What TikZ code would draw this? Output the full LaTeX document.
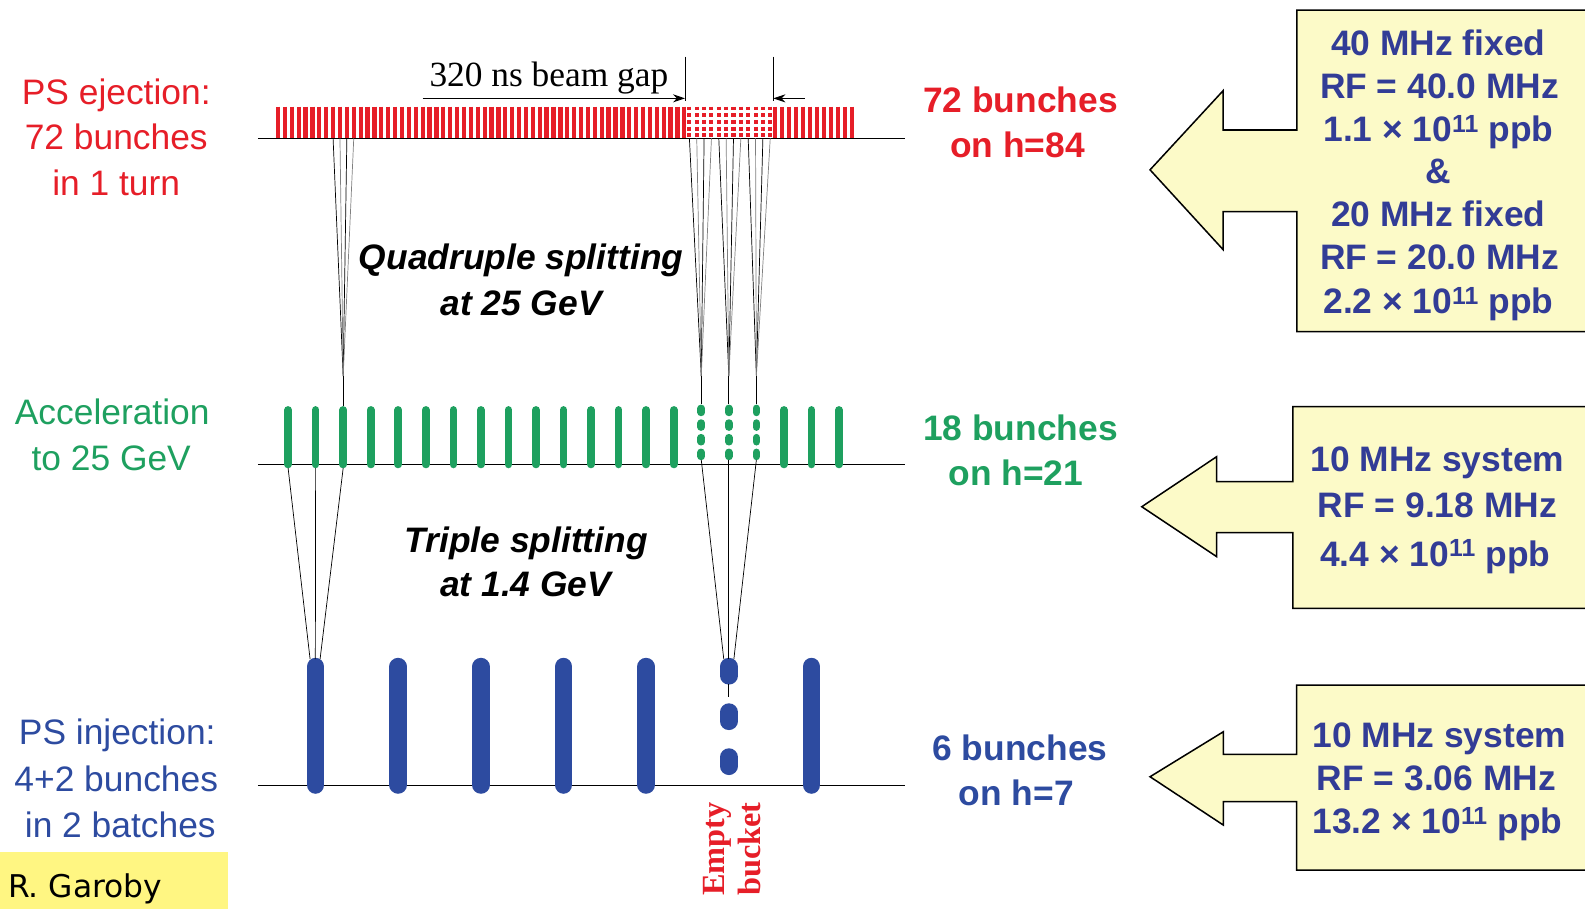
\documentclass[tikz,border=0pt]{standalone}
\usepackage{fontspec}
\setmainfont{Liberation Sans}
\newfontfamily\timesf{Liberation Serif}
\newfontfamily\handf{DejaVu Sans}
\usetikzlibrary{arrows.meta}
\definecolor{cred}{RGB}{230,30,40}
\definecolor{cgreen}{RGB}{30,160,95}
\definecolor{cblue}{RGB}{45,75,160}
\definecolor{ctext}{RGB}{50,60,150}
\definecolor{cpale}{RGB}{252,250,200}
\definecolor{cyel}{RGB}{255,246,130}
\begin{document}
\begin{tikzpicture}[x=1pt,y=-1pt,
  lbl/.style={anchor=base,inner sep=0pt,font=\fontsize{35}{42}\selectfont},
  blbl/.style={lbl,font=\bfseries\fontsize{35}{42}\selectfont},
  ilbl/.style={lbl,font=\bfseries\itshape\fontsize{35}{42}\selectfont},
  boxtxt/.style={blbl,text=ctext},
  redbar/.style={cred,line width=4.2pt},
  reddot/.style={cred,line width=4pt,dash pattern=on 3.8pt off 2.8pt},
  greenbar/.style={cgreen,line width=7.5pt,line cap=round},
  bluebar/.style={cblue,line width=17.5pt,line cap=round},
  bluedot/.style={cblue,line width=17.5pt,line cap=round},
  splitline/.style={black,line width=0.7pt},
  splitgray/.style={black!50,line width=0.7pt},
  axisline/.style={black,line width=1pt},
  bigarrow/.style={fill=cpale,draw=black,line width=1.5pt,line join=miter},
  gaparrow/.style={black,line width=0.9pt,-{Stealth[length=12pt,width=8pt]}}
]
\useasboundingbox (0,0) rectangle (1568,899);

% baselines
\draw[axisline] (255,136.8) coordinate (rl0) -- (895,136.8) coordinate (rl1);
\draw[axisline] (255,460) coordinate (gl0) -- (895,460) coordinate (gl1);
\draw[axisline] (255,776.6) coordinate (bl0) -- (895,776.6) coordinate (bl1);

% red bunches
\foreach \i in {0,...,59} {\draw[redbar] ({275+6.814*\i},105.5) -- ({275+6.814*\i},136.8);}
\foreach \i in {0,...,11} {\draw[redbar] ({767+6.909*\i},105.5) -- ({767+6.909*\i},136.8);}
\foreach \i in {0,...,11} {\draw[reddot] ({682+7.27*\i},105.5) -- ({682+7.27*\i},136.8);}

% green bunches
\foreach \j in {0,...,20} {
  \ifnum\j<15 \draw[greenbar] ({285+27.25*\j},405.5) -- ({285+27.25*\j},459.5);\fi
  \ifnum\j>17 \draw[greenbar] ({285+27.25*\j},405.5) -- ({285+27.25*\j},459.5);\fi
}
\foreach \j in {15,16,17} {
  \foreach \c in {406,420.5,435,449.5} {
    \draw[greenbar] ({285+27.25*\j},\c-2) -- ({285+27.25*\j},\c+2);
  }
}

% blue bunches
\foreach \k in {0,1,2,3,4,6} {\draw[bluebar] ({312.25+81.75*\k},659.5) -- ({312.25+81.75*\k},776.5);}
\foreach \c in {664,709,753.5} {\draw[bluedot] (721,\c-4.5) -- (721,\c+4.5);}

% quadruple splitting lines (red -> green)
\coordinate (q0) at (339.5,372);
\foreach \i in {8,10} {\draw[splitline] ({275+6.814*\i},136.8) -- (q0);}
\foreach \i in {9,11} {\draw[splitgray] ({275+6.814*\i},136.8) -- (q0);}
\draw[splitline,line width=1.3pt] (q0) -- (339.5,402);
\foreach \g in {0,1,2} {
  \coordinate (qg) at ({285+27.25*(15+\g)},372);
  \foreach \k in {0,2} {\draw[splitline] ({682+7.27*(4*\g+\k)},136.8) -- (qg);}
  \foreach \k in {1,3} {\draw[splitgray] ({682+7.27*(4*\g+\k)},136.8) -- (qg);}
  \draw[splitline,line width=1.3pt] (qg) -- ({285+27.25*(15+\g)},400);
}

% triple splitting lines (green -> blue)
\foreach \j/\o in {0/-5.5,1/-0.3,2/4.4} {\draw[splitline] ({285+27.25*\j},463) -- ({312.25+\o},652);}
\foreach \j/\o in {15/-5,16/0,17/5} {\draw[splitline] ({285+27.25*\j},455) -- ({721+\o},652);}
\draw[splitline] (721,677) -- (721,690);

% beam gap marker
\draw[black,line width=0.9pt] (677.7,56) coordinate (gv0) -- (677.7,100);
\draw[black,line width=0.9pt] (765,56) coordinate (gv1) -- (765,100);
\draw[gaparrow] (418,97.3) -- (677.7,97.3);
\draw[gaparrow] (796,97.3) -- (765,97.3);
\node[lbl,font=\timesf\fontsize{35}{42}\selectfont] (gap) at (543,86) {320 ns beam gap};

% left labels
\node[lbl,text=cred] (l1) at (115,103) {PS ejection:};
\node[lbl,text=cred] (l2) at (115,148) {72 bunches};
\node[lbl,text=cred] (l3) at (115,193) {in 1 turn};
\node[lbl,text=cgreen] (l4) at (111,420) {Acceleration};
\node[lbl,text=cgreen] (l5) at (110,465) {to 25 GeV};
\node[lbl,text=cblue] (l6) at (116,737) {PS injection:};
\node[lbl,text=cblue] (l7) at (115,783) {4+2 bunches};
\node[lbl,text=cblue] (l8) at (119,829) {in 2 batches};

% middle labels
\node[ilbl] (m1) at (515.5,267) {Quadruple splitting};
\node[ilbl] (m2) at (515.5,312) {at 25 GeV};
\node[ilbl] (m3) at (520.5,547) {Triple splitting};
\node[ilbl] (m4) at (520,590) {at 1.4 GeV};

% right labels
\node[blbl,text=cred] (r1) at (1009.5,111) {72 bunches};
\node[blbl,text=cred] (r2) at (1006.5,156) {on h=84};
\node[blbl,text=cgreen] (r3) at (1009.5,436) {18 bunches};
\node[blbl,text=cgreen] (r4) at (1005,480) {on h=21};
\node[blbl,text=cblue] (r5) at (1009,752) {6 bunches};
\node[blbl,text=cblue] (r6) at (1005.5,797) {on h=7};

% empty bucket
\node[inner sep=0pt,rotate=90,align=center,text=cred,
  font=\timesf\bfseries\fontsize{32}{36}\selectfont] (eb) at (724,840) {Empty\\bucket};

% big arrows
\filldraw[bigarrow] (1283,10) -- (1600,10) -- (1600,328) -- (1283,328) -- (1283,209.4)
  -- (1210,209.4) -- (1210,247) -- (1137.7,168) -- (1210,89.7) -- (1210,128.6) -- (1283,128.6) -- cycle;
\filldraw[bigarrow] (1279,402.3) -- (1600,402.3) -- (1600,601.8) -- (1279,601.8) -- (1279,527)
  -- (1203.6,527) -- (1203.6,550.7) -- (1129.5,501.3) -- (1203.6,451.8) -- (1203.6,476.5) -- (1279,476.5) -- cycle;
\filldraw[bigarrow] (1282.8,677.7) -- (1600,677.7) -- (1600,860.7) -- (1282.8,860.7) -- (1282.8,793.1)
  -- (1210.2,793.1) -- (1210.2,816.2) -- (1137.7,768.4) -- (1210.2,723.9) -- (1210.2,746.3) -- (1282.8,746.3) -- cycle;

% box texts
\node[boxtxt] (a1) at (1423,55) {40 MHz fixed};
\node[boxtxt] (a2) at (1424,97) {RF = 40.0 MHz};
\node[boxtxt] (a3) at (1423,140) {1.1 × 10\textsuperscript{11} ppb};
\node[boxtxt] (a4) at (1423,182) {\&};
\node[boxtxt] (a5) at (1423,224) {20 MHz fixed};
\node[boxtxt] (a6) at (1424,267) {RF = 20.0 MHz};
\node[boxtxt] (a7) at (1423,310) {2.2 × 10\textsuperscript{11} ppb};
\node[boxtxt] (b1) at (1422,466) {10 MHz system};
\node[boxtxt] (b2) at (1422,512) {RF = 9.18 MHz};
\node[boxtxt] (b3) at (1420,560) {4.4 × 10\textsuperscript{11} ppb};
\node[boxtxt] (c1) at (1424,739) {10 MHz system};
\node[boxtxt] (c2) at (1421,782) {RF = 3.06 MHz};
\node[boxtxt] (c3) at (1422,825) {13.2 × 10\textsuperscript{11} ppb};

% author box
\fill[cyel] (0,843) rectangle (226,899);
\node[anchor=base west,inner sep=0pt,font=\handf\fontsize{31}{36}\selectfont] (au) at (8,888) {R. Garoby};
\end{tikzpicture}
\end{document}
